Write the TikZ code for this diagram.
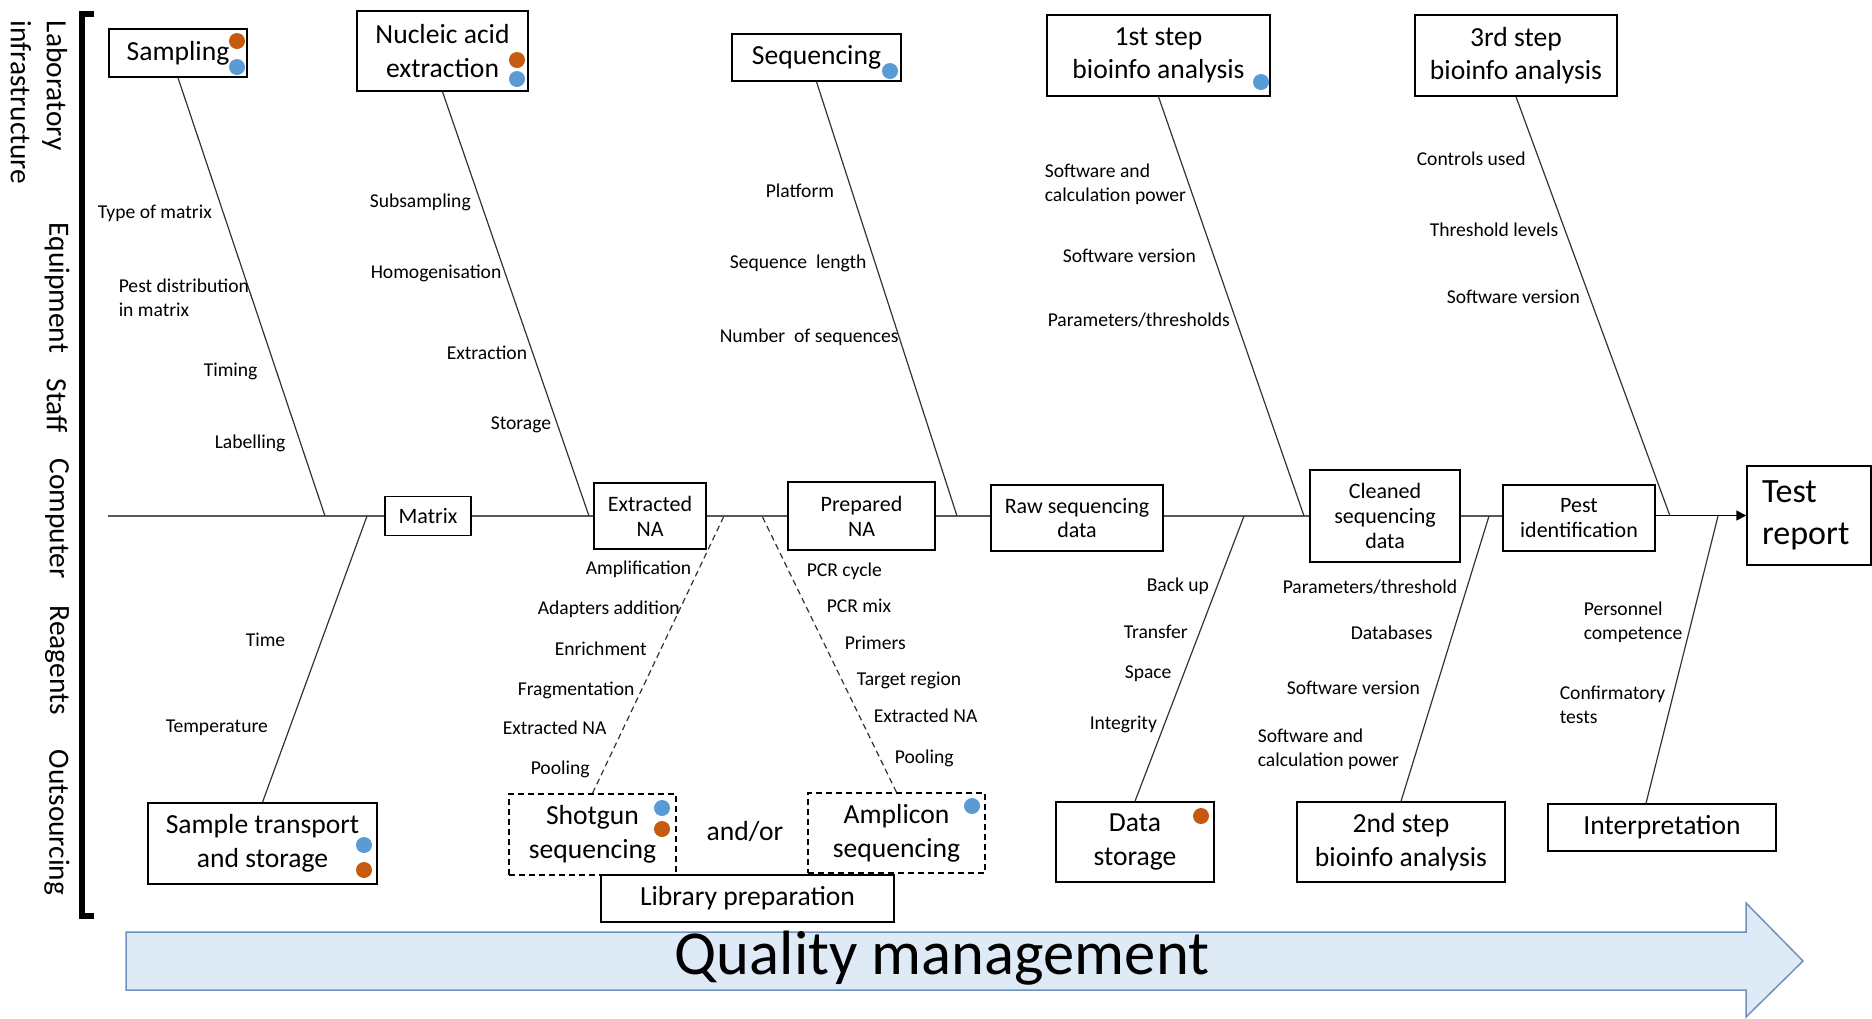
\documentclass[tikz,border=0pt]{standalone}
\usepackage{fontspec}
\setmainfont{Carlito}
\usepackage{tikz}
\usetikzlibrary{arrows.meta}
\definecolor{dotorange}{RGB}{197,90,17}
\definecolor{dotblue}{RGB}{91,155,213}
\definecolor{qmfill}{RGB}{222,235,247}
\definecolor{qmline}{RGB}{110,145,190}

\begin{document}
\begin{tikzpicture}[
    x=0.5pt, y=-0.5pt,
    every node/.style={draw, line width=0.75pt, fill=white, inner sep=0pt, align=center},
    bigbox/.style={font=\fontsize{13.8}{16.8}\selectfont},
    midbox/.style={font=\fontsize{11}{12.5}\selectfont},
    dashbox/.style={bigbox, dash pattern=on 3pt off 2pt},
    lbl/.style={draw=none, fill=none, anchor=west, align=left, font=\fontsize{9.8}{12}\selectfont},
    side/.style={draw=none, fill=none, rotate=-90, anchor=west, align=left, font=\fontsize{14.7}{18}\selectfont},
    bone/.style={draw=black!80, line width=0.6pt},
    dbone/.style={bone, dash pattern=on 3pt off 2pt},
    spine/.style={draw=black!65, line width=1pt}
]
  \useasboundingbox (0,0) rectangle (1872,1018);

  % Side bracket
  \draw[line width=3pt] (94,14) -- (82,14) -- (82,916) -- (94,916);
  \node[side] (lab) at (39,20) {Laboratory\\infrastructure};
  \node[side] (equip) at (57,222) {Equipment};
  \node[side] (staff) at (57,378) {Staff};
  \node[side] (comp) at (57,458) {Computer};
  \node[side] (reag) at (57,605) {Reagents};
  \node[side] (outs) at (57,749) {Outsourcing};

  % Quality management arrow
  \draw[qmline, fill=qmfill, line width=0.75pt]
    (126,932) -- (1746,932) -- (1746,903) -- (1803,961) -- (1746,1017)
    -- (1746,990) -- (126,990) -- cycle;
  \node[draw=none, fill=none, anchor=base, font=\fontsize{31.3}{34}\selectfont] (qm) at (942,974) {Quality management};

  % Spine boxes
  \node[midbox, minimum width=43pt, minimum height=19.5pt] (matrix) at (428,516) {Matrix};
  \node[midbox, minimum width=56pt, minimum height=33pt] (extracted) at (650,516) {Extracted\\NA};
  \node[midbox, minimum width=73.5pt, minimum height=34pt] (prepared) at (861.5,516) {Prepared\\NA};
  \node[midbox, minimum width=86pt, minimum height=33pt] (raw) at (1077,518) {Raw sequencing\\data};
  \node[midbox, minimum width=75pt, minimum height=46pt] (cleaned) at (1385,516) {Cleaned\\sequencing\\data};
  \node[midbox, minimum width=76pt, minimum height=33pt] (pest) at (1579,518) {Pest\\identification};
  \node[font=\fontsize{17}{21}\selectfont, align=left, text width=47pt, inner xsep=7.5pt, minimum height=49.5pt] (report) at (1809,515.5) {Test\\report};

  % Spine
  \coordinate (tail) at (108,516);
  \draw[spine] (tail) -- (matrix);
  \draw[spine] (matrix) -- (extracted) -- (prepared);
  \draw[spine] (prepared.east) -- (prepared.east -| raw.west);
  \draw[spine] (raw.east |- cleaned.west) -- (cleaned.west);
  \draw[spine] (cleaned.east) -- (cleaned.east -| pest.west);
  \draw[black, line width=0.8pt, -{Triangle[length=5pt, width=5pt]}] (pest.east |- report.west) -- (report.west);

  % Upper causes
  \node[bigbox, minimum width=69pt, minimum height=24pt] (sampling) at (178,53) {Sampling};
  \node[bigbox, minimum width=85.5pt, minimum height=40pt] (nucleic) at (442.5,51) {Nucleic acid\\extraction};
  \node[bigbox, minimum width=84.5pt, minimum height=23.5pt] (sequencing) at (816.5,57.5) {Sequencing};
  \node[bigbox, minimum width=111.5pt, minimum height=40.5pt] (step1) at (1158.5,55.5) {1st step\\bioinfo analysis};
  \node[bigbox, minimum width=101pt, minimum height=40.5pt] (step3) at (1516,55.5) {3rd step\\bioinfo analysis};

  % Lower causes
  \node[bigbox, minimum width=114.5pt, minimum height=40.5pt] (transport) at (262.5,843.5) {Sample transport\\and storage};
  \node[dashbox, minimum width=83.5pt, minimum height=40.5pt] (shotgun) at (592.5,834.5) {Shotgun\\sequencing};
  \node[dashbox, minimum width=88.5pt, minimum height=40pt] (amplicon) at (896.5,833) {Amplicon\\sequencing};
  \node[bigbox, draw=none, fill=none] (andor) at (745,831) {and/or};
  \node[bigbox, minimum width=146.5pt, minimum height=23.5pt] (library) at (747.5,898.5) {Library preparation};
  \node[bigbox, minimum width=79pt, minimum height=40pt] (datastore) at (1135,842) {Data\\storage};
  \node[bigbox, minimum width=104pt, minimum height=40pt] (step2) at (1401,842) {2nd step\\bioinfo analysis};
  \node[bigbox, minimum width=114pt, minimum height=23.5pt] (interp) at (1662,827.5) {Interpretation};

  % Dots
  \fill[dotorange] (237,41) circle (4pt);
  \fill[dotblue] (237,67) circle (4pt);
  \fill[dotorange] (517,60) circle (4pt);
  \fill[dotblue] (517,79) circle (4pt);
  \fill[dotblue] (890,71) circle (4pt);
  \fill[dotblue] (1261,82) circle (4pt);
  \fill[dotblue] (364,845) circle (4pt);
  \fill[dotorange] (364,870) circle (4pt);
  \fill[dotblue] (662,808) circle (4pt);
  \fill[dotorange] (662,829) circle (4pt);
  \fill[dotblue] (972,806) circle (4pt);
  \fill[dotorange] (1201,816) circle (4pt);

  % Bones
  \coordinate (b1) at (325,516);
  \coordinate (b2) at (589,516);
  \coordinate (b3) at (367,516);
  \coordinate (b4) at (724,516);
  \coordinate (b5) at (762,516);
  \coordinate (b6) at (957,516);
  \coordinate (b7) at (1244,516);
  \coordinate (b8) at (1304,516);
  \coordinate (b9) at (1489,516);
  \coordinate (b10) at (1670,516);
  \coordinate (b11) at (1718,516);
  \draw[bone] (sampling.south) -- (b1);
  \draw[bone] (nucleic.south) -- (b2);
  \draw[bone] (transport.north) -- (b3);
  \draw[dbone] (shotgun.north) -- (b4);
  \draw[dbone] (amplicon.north) -- (b5);
  \draw[bone] (sequencing.south) -- (b6);
  \draw[bone] (datastore.north) -- (b7);
  \draw[bone] (step1.south) -- (b8);
  \draw[bone] (step2.north) -- (b9);
  \draw[bone] (step3.south) -- (b10);
  \draw[bone] ([xshift=-8pt]interp.north) -- (b11);

  % Labels: sampling
  \node[lbl] (s1) at (97,213) {Type of matrix};
  \node[lbl] (s2) at (118,298) {Pest distribution\\in matrix};
  \node[lbl] (s3) at (203,371) {Timing};
  \node[lbl] (s4) at (214,443) {Labelling};
  % Labels: nucleic acid extraction
  \node[lbl] (n1) at (369,202) {Subsampling};
  \node[lbl] (n2) at (370,273) {Homogenisation};
  \node[lbl] (n3) at (446,353) {Extraction};
  \node[lbl] (n4) at (490,425) {Storage};
  % Labels: transport
  \node[lbl] (t1) at (245,640) {Time};
  \node[lbl] (t2) at (165,728) {Temperature};
  % Labels: sequencing
  \node[lbl] (q1) at (765,191) {Platform};
  \node[lbl] (q2) at (729,263) {Sequence\ \ length};
  \node[lbl] (q3) at (719,337) {Number\ \ of sequences};
  % Labels: shotgun
  \node[lbl] (g1) at (585,569) {Amplification};
  \node[lbl] (g2) at (537,609) {Adapters addition};
  \node[lbl] (g3) at (554,649) {Enrichment};
  \node[lbl] (g4) at (517,690) {Fragmentation};
  \node[lbl] (g5) at (502,728) {Extracted NA};
  \node[lbl] (g6) at (530,769) {Pooling};
  % Labels: amplicon
  \node[lbl] (a1) at (806,571) {PCR cycle};
  \node[lbl] (a2) at (826,606) {PCR mix};
  \node[lbl] (a3) at (844,643) {Primers};
  \node[lbl] (a4) at (856,680) {Target region};
  \node[lbl] (a5) at (873,716) {Extracted NA};
  \node[lbl] (a6) at (894,758) {Pooling};
  % Labels: 1st step
  \node[lbl] (f1) at (1044,184) {Software and\\calculation power};
  \node[lbl] (f2) at (1062,256) {Software version};
  \node[lbl] (f3) at (1047,320) {Parameters/thresholds};
  % Labels: 3rd step
  \node[lbl] (h1) at (1416,159) {Controls used};
  \node[lbl] (h2) at (1429,230) {Threshold levels};
  \node[lbl] (h3) at (1446,297) {Software version};
  % Labels: data storage
  \node[lbl] (d1) at (1146,586) {Back up};
  \node[lbl] (d2) at (1123,632) {Transfer};
  \node[lbl] (d3) at (1124,674) {Space};
  \node[lbl] (d4) at (1089,724) {Integrity};
  % Labels: 2nd step
  \node[lbl] (e1) at (1282,587) {Parameters/threshold};
  \node[lbl] (e2) at (1350,633) {Databases};
  \node[lbl] (e3) at (1286,688) {Software version};
  \node[lbl] (e4) at (1257,749) {Software and\\calculation power};
  % Labels: interpretation
  \node[lbl] (i1) at (1583,622) {Personnel\\competence};
  \node[lbl] (i2) at (1559,705) {Confirmatory\\tests};
\end{tikzpicture}
\end{document}
